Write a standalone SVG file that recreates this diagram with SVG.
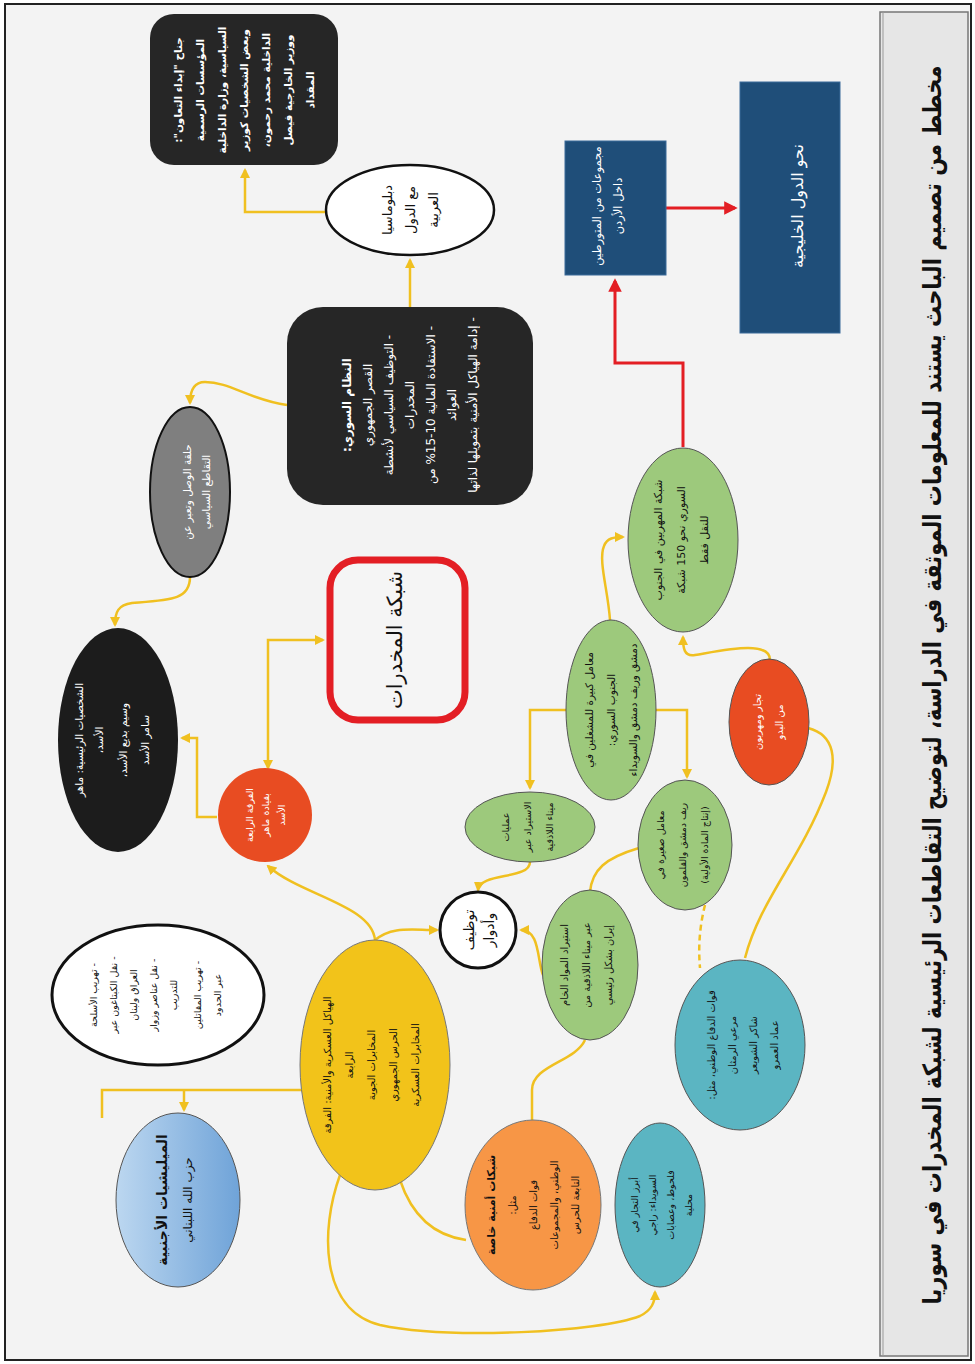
<svg xmlns="http://www.w3.org/2000/svg" width="975" height="1364" viewBox="0 0 975 1364">
<style>
text{font-family:"DejaVu Sans","Noto Sans",sans-serif;direction:rtl;text-anchor:middle}
.w{fill:#ffffff}
.k{fill:#111111}
.y{fill:none;stroke:#f0c020;stroke-width:2.5}
.r{fill:none;stroke:#e31e24;stroke-width:3}
.g{fill:#9dc97c;stroke:#555;stroke-width:1}
.t{fill:#5bb5c2;stroke:#555;stroke-width:1}
</style>
<defs>
<marker id="ay" viewBox="0 0 10 10" refX="8" refY="5" markerWidth="4" markerHeight="4" orient="auto-start-reverse"><path d="M0,0 L10,5 L0,10 z" fill="#f0c020"/></marker>
<marker id="ar" viewBox="0 0 10 10" refX="8" refY="5" markerWidth="4.5" markerHeight="4.5" orient="auto"><path d="M0,0 L10,5 L0,10 z" fill="#e31e24"/></marker>
<linearGradient id="bl" x1="0" y1="0" x2="1" y2="0"><stop offset="0" stop-color="#bcd7f0"/><stop offset="1" stop-color="#6fa3d8"/></linearGradient>
</defs>
<rect x="0" y="0" width="975" height="1364" fill="#ffffff"/>
<rect x="5" y="4" width="966" height="1356" fill="#f3f3f3" stroke="#222" stroke-width="2"/>
<g id="title">
<rect x="880" y="12" width="88" height="1344" fill="#e6e6e6" stroke="#777" stroke-width="1.5"/>
<line x1="883" y1="12" x2="883" y2="1356" stroke="#999" stroke-width="1"/>
<g transform="translate(933,685) rotate(-90) scale(1,1.2)"><text class="k" font-size="21" font-weight="bold" y="7">مخطط من تصميم الباحث يستند للمعلومات الموثقة في الدراسة، لتوضيح التقاطعات الرئيسية لشبكة المخدرات في سوريا</text></g>
</g>
<g id="connectors">
<path class="y" d="M325,212 H245 V170" marker-end="url(#ay)"/>
<path class="y" d="M410,307 V260" marker-end="url(#ay)"/>
<path class="y" d="M287,405 C250,400 230,382 205,382 C193,382 190,392 190,403" marker-end="url(#ay)"/>
<path class="y" d="M190,577 C190,600 170,600 132,603 C118,605 115,612 115,625" marker-end="url(#ay)"/>
<path class="y" d="M217,817 H197 V738 H182" marker-end="url(#ay)"/>
<path class="y" d="M268,768 V640 H323" marker-start="url(#ay)" marker-end="url(#ay)"/>
<path class="y" d="M375,940 C372,905 300,895 268,866" marker-end="url(#ay)"/>
<path class="y" d="M375,940 C392,926 410,930 437,930" marker-end="url(#ay)"/>
<path class="y" d="M530,862 C530,880 480,872 478,890" marker-end="url(#ay)"/>
<path class="y" d="M543,975 C537,960 540,930 521,930" marker-end="url(#ay)"/>
<path class="y" d="M590,892 C592,870 605,858 639,848"/>
<path class="y" d="M610,620 C608,590 598,560 604,546 C607,538 614,537 623,537" marker-end="url(#ay)"/>
<path class="y" d="M770,660 C770,640 725,650 695,655 C684,657 683,648 683,637" marker-end="url(#ay)"/>
<path class="y" d="M566,710 H530 V788" marker-end="url(#ay)"/>
<path class="y" d="M655,710 H687 V777" marker-end="url(#ay)"/>
<path class="y" d="M808,728 C835,735 838,760 826,792 C800,860 760,900 745,958"/>
<path class="y" d="M705,905 C700,925 698,945 700,968" stroke-dasharray="6,4"/>
<path class="y" d="M532,1120 V1090 C532,1065 575,1062 585,1040"/>
<path class="y" d="M302,1090 H102 V1118"/>
<path class="y" d="M184,1090 V1110" marker-end="url(#ay)"/>
<path class="y" d="M466,1240 C430,1235 410,1210 400,1180"/>
<path class="y" d="M340,1175 C320,1230 320,1310 380,1325 C450,1340 600,1332 640,1316 C652,1310 655,1302 655,1292" marker-end="url(#ay)"/>
<path class="r" d="M683,447 V363 H615 V281" marker-end="url(#ar)"/>
<path class="r" d="M666,208 H735" marker-end="url(#ar)"/>
</g>
<g id="n1">
<rect x="150" y="14" width="188" height="151" rx="24" fill="#262626"/>
<g transform="translate(244,90) rotate(-90)"><text class="w" font-size="10.5" font-weight="bold"><tspan x="0" y="-62">جناح "إبداء التعاون":</tspan><tspan x="0" y="-40">المؤسسات الرسمية</tspan><tspan x="0" y="-18">السياسية، وزارة الداخلية</tspan><tspan x="0" y="4">وبعض الشخصيات كوزير</tspan><tspan x="0" y="26">الداخلية محمد رحمون،</tspan><tspan x="0" y="48">ووزير الخارجية فيصل</tspan><tspan x="0" y="70">المقداد</tspan></text></g>
</g>
<g id="n2">
<ellipse cx="410" cy="210" rx="84" ry="45" fill="#ffffff" stroke="#111" stroke-width="2.5"/>
<g transform="translate(410,210) rotate(-90)"><text class="k" font-size="13"><tspan x="0" y="-18">دبلوماسيا</tspan><tspan x="0" y="5">مع الدول</tspan><tspan x="0" y="28">العربية</tspan></text></g>
</g>
<g id="n3">
<rect x="287" y="307" width="246" height="198" rx="36" fill="#262626"/>
<g transform="translate(410,405) rotate(-90)"><text class="w" font-size="12"><tspan x="0" y="-59" font-weight="bold">النظام السوري:</tspan><tspan x="0" y="-38">القصر الجمهوري</tspan><tspan x="0" y="-17">- التوظيف السياسي لأنشطة</tspan><tspan x="0" y="4">المخدرات</tspan><tspan x="0" y="25">- الاستفادة المالية 10-15% من</tspan><tspan x="0" y="46">العوائد</tspan><tspan x="0" y="67">- إدامة الهياكل الأمنية بتمويلها لذاتها</tspan></text></g>
</g>
<g id="n4">
<ellipse cx="190" cy="492" rx="40" ry="85" fill="#7f7f7f" stroke="#111" stroke-width="2"/>
<g transform="translate(197,492) rotate(-90)"><text class="w" font-size="10.5"><tspan x="0" y="-6">حلقة الوصل وتعبر عن</tspan><tspan x="0" y="13">التقاطع السياسي</tspan></text></g>
</g>
<g id="n5">
<ellipse cx="118" cy="740" rx="60" ry="112" fill="#1c1c1c"/>
<g transform="translate(112,740) rotate(-90)"><text class="w" font-size="10.5"><tspan x="0" y="-29">الشخصيات الرئيسية: ماهر</tspan><tspan x="0" y="-9">الأسد،</tspan><tspan x="0" y="15">وسيم بديع الأسد،</tspan><tspan x="0" y="37">سامر الأسد</tspan></text></g>
</g>
<g id="n6">
<circle cx="265" cy="815" r="47" fill="#e84c22"/>
<g transform="translate(265,815) rotate(-90)"><text class="w" font-size="9.5"><tspan x="0" y="-12">الفرقة الرابعة</tspan><tspan x="0" y="4">بقيادة ماهر</tspan><tspan x="0" y="20">الأسد</tspan></text></g>
</g>
<g id="n7">
<rect x="330" y="560" width="135" height="160" rx="28" fill="#f5f5f5" stroke="#e31e24" stroke-width="7"/>
<g transform="translate(395,640) rotate(-90)"><text class="k" font-size="21" y="7">شبكة المخدرات</text></g>
</g>
<g id="n8">
<circle cx="478" cy="930" r="38" fill="#ffffff" stroke="#111" stroke-width="3"/>
<g transform="translate(478,930) rotate(-90)"><text class="k" font-size="14"><tspan x="0" y="-4">توظيف</tspan><tspan x="0" y="16">وأدوار</tspan></text></g>
</g>
<g id="n9">
<ellipse cx="530" cy="827" rx="65" ry="35" class="g"/>
<g transform="translate(528,827) rotate(-90)"><text class="k" font-size="9.5"><tspan x="0" y="-19">عمليات</tspan><tspan x="0" y="3">الاستيراد عبر</tspan><tspan x="0" y="25">ميناء اللاذقية</tspan></text></g>
</g>
<g id="n10">
<ellipse cx="611" cy="710" rx="45" ry="90" class="g"/>
<g transform="translate(611,710) rotate(-90)"><text class="k" font-size="10.5"><tspan x="0" y="-18">معامل كبيرة للمشغلين في</tspan><tspan x="0" y="4">الجنوب السوري:</tspan><tspan x="0" y="26">دمشق وريف دمشق والسويداء</tspan></text></g>
</g>
<g id="n11">
<ellipse cx="683" cy="540" rx="55" ry="92" class="g"/>
<g transform="translate(681,540) rotate(-90)"><text class="k" font-size="11"><tspan x="0" y="-19">شبكة المهربين في الجنوب</tspan><tspan x="0" y="4">السوري نحو 150 شبكة</tspan><tspan x="0" y="27">للنقل فقط</tspan></text></g>
</g>
<g id="n12">
<rect x="565" y="141" width="101" height="134" fill="#1f4e79" stroke="#3a6a9a"/>
<g transform="translate(607,206) rotate(-90)"><text class="w" font-size="11.5"><tspan x="0" y="-6">مجموعات من المتورطين</tspan><tspan x="0" y="15">داخل الأردن</tspan></text></g>
</g>
<g id="n13">
<rect x="740" y="82" width="100" height="251" fill="#1f4e79" stroke="#3a6a9a"/>
<g transform="translate(797,206) rotate(-90)"><text class="w" font-size="16" y="6">نحو الدول الخليجية</text></g>
</g>
<g id="n14">
<ellipse cx="769" cy="722" rx="40" ry="63" fill="#e84c22" stroke="#555" stroke-width="1"/>
<g transform="translate(770,722) rotate(-90)"><text class="w" font-size="10"><tspan x="0" y="-9">تجار ومهربون</tspan><tspan x="0" y="13">من البدو</tspan></text></g>
</g>
<g id="n15">
<ellipse cx="685" cy="845" rx="47" ry="65" class="g"/>
<g transform="translate(683,845) rotate(-90)"><text class="k" font-size="9.5"><tspan x="0" y="-19">معامل صغيرة في</tspan><tspan x="0" y="3">ريف دمشق والقلمون</tspan><tspan x="0" y="25">(إنتاج المادة الأولية)</tspan></text></g>
</g>
<g id="n16">
<ellipse cx="590" cy="965" rx="48" ry="75" class="g"/>
<g transform="translate(587,965) rotate(-90)"><text class="k" font-size="10"><tspan x="0" y="-19">استيراد المواد الخام</tspan><tspan x="0" y="3">عبر ميناء اللاذقية من</tspan><tspan x="0" y="25">إيران بشكل رئيسي</tspan></text></g>
</g>
<g id="n17">
<ellipse cx="158" cy="995" rx="106" ry="70" fill="#ffffff" stroke="#111" stroke-width="3"/>
<g transform="translate(158,995) rotate(-90)"><text class="k" font-size="9.5"><tspan x="0" y="-61">- تهريب الأسلحة</tspan><tspan x="0" y="-41">- نقل الكبتاغون عبر</tspan><tspan x="0" y="-21">العراق ولبنان</tspan><tspan x="0" y="-1">- نقل عناصر وزوار</tspan><tspan x="0" y="19">للتدريب</tspan><tspan x="0" y="43">- تهريب المقاتلين</tspan><tspan x="0" y="63">عبر الحدود</tspan></text></g>
</g>
<g id="n18">
<ellipse cx="178" cy="1200" rx="62" ry="87" fill="url(#bl)" stroke="#555" stroke-width="1"/>
<g transform="translate(175,1200) rotate(-90)"><text class="k"><tspan x="0" y="-8" font-size="14" font-weight="bold">الميليشيات الأجنبية</tspan><tspan x="0" y="17" font-size="12">حزب الله اللبناني</tspan></text></g>
</g>
<g id="n19">
<ellipse cx="375" cy="1065" rx="75" ry="125" fill="#f2c31a" stroke="#777" stroke-width="1"/>
<g transform="translate(372,1065) rotate(-90)"><text class="k" font-size="10"><tspan x="0" y="-41">الهياكل العسكرية والأمنية: الفرقة</tspan><tspan x="0" y="-19">الرابعة</tspan><tspan x="0" y="3">المخابرات الجوية</tspan><tspan x="0" y="25">الحرس الجمهوري</tspan><tspan x="0" y="47">المخابرات العسكرية</tspan></text></g>
</g>
<g id="n20">
<ellipse cx="533" cy="1205" rx="68" ry="85" fill="#f79646" stroke="#777" stroke-width="1"/>
<g transform="translate(533,1205) rotate(-90)"><text class="k" font-size="10"><tspan x="0" y="-38" font-weight="bold" font-size="11">شبكات أمنية خاصة</tspan><tspan x="0" y="-17">مثل:</tspan><tspan x="0" y="4">قوات الدفاع</tspan><tspan x="0" y="25">الوطني، والمجموعات</tspan><tspan x="0" y="46">التابعة للحرس</tspan></text></g>
</g>
<g id="n21">
<ellipse cx="660" cy="1205" rx="45" ry="82" class="t"/>
<g transform="translate(662,1205) rotate(-90)"><text class="k" font-size="9.5"><tspan x="0" y="-24">أبرز التجار في</tspan><tspan x="0" y="-6">السويداء: راجي</tspan><tspan x="0" y="12">فلحوط، وعصابات</tspan><tspan x="0" y="30">محلية</tspan></text></g>
</g>
<g id="n22">
<ellipse cx="740" cy="1045" rx="65" ry="85" class="t"/>
<g transform="translate(742,1045) rotate(-90)"><text class="k" font-size="10"><tspan x="0" y="-27">قوات الدفاع الوطني، مثل:</tspan><tspan x="0" y="-6">مرعي الرمثان</tspan><tspan x="0" y="15">شاكر الشويعر</tspan><tspan x="0" y="36">عماد العمرو</tspan></text></g>
</g>
</svg>
